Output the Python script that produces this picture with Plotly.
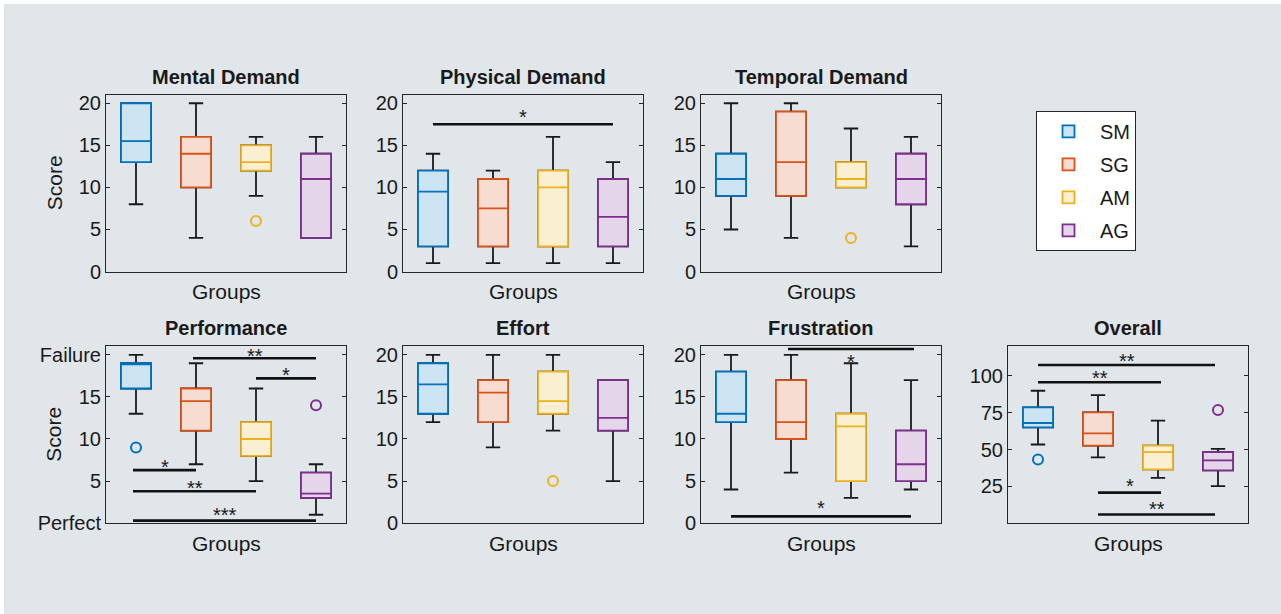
import plotly.graph_objects as go

W, H = 1281, 614          # reference design space (pixels)
H_PAGE = 626              # rendered height (capture is squeezed to 614)
FONT = "Liberation Sans, Arial, sans-serif"
INK = "#1a1a1a"

GROUPS = ["SM", "SG", "AM", "AG"]
LINE_COLORS = ["#0072BD", "#D95319", "#EDB120", "#7E2F8E"]
FILL_COLORS = ["#cce3f2", "#f7ddd1", "#fbefd2", "#e5d5e8"]

MENTAL_Q1 = [13, 10, 12, 4]
MENTAL_MED = [15.5, 14, 13, 11]
MENTAL_Q3 = [20, 16, 15, 14]
MENTAL_LO = [8, 4, 9, 4]
MENTAL_HI = [20, 20, 16, 16]
MENTAL_OUT = [[], [], [6], []]
MENTAL_SIG = []

PHYS_Q1 = [3, 3, 3, 3]
PHYS_MED = [9.5, 7.5, 10, 6.5]
PHYS_Q3 = [12, 11, 12, 11]
PHYS_LO = [1, 1, 1, 1]
PHYS_HI = [14, 12, 16, 13]
PHYS_OUT = [[], [], [], []]
PHYS_SIG = [(1, 4, 17.5, "*", 18.8)]

TEMP_Q1 = [9, 9, 10, 8]
TEMP_MED = [11, 13, 11, 11]
TEMP_Q3 = [14, 19, 13, 14]
TEMP_LO = [5, 4, 10, 3]
TEMP_HI = [20, 20, 17, 16]
TEMP_OUT = [[], [], [4], []]
TEMP_SIG = []

PERF_Q1 = [16, 11, 8, 3]
PERF_MED = [19, 14.5, 10, 3.5]
PERF_Q3 = [19, 16, 12, 6]
PERF_LO = [13, 7, 5, 1]
PERF_HI = [20, 19, 16, 7]
PERF_OUT = [[9], [], [], [14]]
PERF_SIG = [(1.95, 4, 19.6, "**", 20.3), (3, 4, 17.2, "*", 18.1),
            (0.95, 2, 6.3, "*", 7.2), (0.95, 3, 3.8, "**", 4.7),
            (0.95, 4, 0.3, "***", 1.5)]
PERF_TICKTEXT = ["Perfect", "5", "10", "15", "Failure"]

EFF_Q1 = [13, 12, 13, 11]
EFF_MED = [16.5, 15.5, 14.5, 12.5]
EFF_Q3 = [19, 17, 18, 17]
EFF_LO = [12, 9, 11, 5]
EFF_HI = [20, 20, 20, 17]
EFF_OUT = [[], [], [5], []]
EFF_SIG = []

FRUS_Q1 = [12, 10, 5, 5]
FRUS_MED = [13, 12, 11.5, 7]
FRUS_Q3 = [18, 17, 13, 11]
FRUS_LO = [4, 6, 3, 4]
FRUS_HI = [20, 20, 19, 17]
FRUS_OUT = [[], [], [], []]
FRUS_SIG = [(1.95, 4.05, 20.7, "*", 19.6), (1, 4, 0.8, "*", 2.3)]

OVR_Q1 = [65.1, 52.7, 36.5, 35.8]
OVR_MED = [68.0, 61.0, 48.2, 42.6]
OVR_Q3 = [78.6, 75.2, 52.7, 48.2]
OVR_LO = [53.4, 44.6, 30.8, 25.2]
OVR_HI = [89.9, 87.0, 69.6, 50.5]
OVR_OUT = [[43.2], [], [], [76.8]]
OVR_SIG = [(1, 3.95, 107.4, "**", 113), (1, 3.05, 95.7, "**", 101.1),
           (2, 3.05, 20.7, "*", 27.9), (2, 3.95, 5.9, "**", 12.2)]

TICKS_20 = [0, 5, 10, 15, 20]
TICKS_OVR = [25, 50, 75, 100]

panels = [
    dict(title="Mental Demand", q1=MENTAL_Q1, med=MENTAL_MED, q3=MENTAL_Q3, lo=MENTAL_LO, hi=MENTAL_HI,
         out=MENTAL_OUT, sig=MENTAL_SIG, left=106, top=93, yr=[0, 21], tv=TICKS_20, tt=None, ylab=True),
    dict(title="Physical Demand", q1=PHYS_Q1, med=PHYS_MED, q3=PHYS_Q3, lo=PHYS_LO, hi=PHYS_HI,
         out=PHYS_OUT, sig=PHYS_SIG, left=403, top=93, yr=[0, 21], tv=TICKS_20, tt=None, ylab=False),
    dict(title="Temporal Demand", q1=TEMP_Q1, med=TEMP_MED, q3=TEMP_Q3, lo=TEMP_LO, hi=TEMP_HI,
         out=TEMP_OUT, sig=TEMP_SIG, left=701, top=93, yr=[0, 21], tv=TICKS_20, tt=None, ylab=False),
    dict(title="Performance", q1=PERF_Q1, med=PERF_MED, q3=PERF_Q3, lo=PERF_LO, hi=PERF_HI,
         out=PERF_OUT, sig=PERF_SIG, left=106, top=345, yr=[0, 21], tv=TICKS_20, tt=PERF_TICKTEXT, ylab=True),
    dict(title="Effort", q1=EFF_Q1, med=EFF_MED, q3=EFF_Q3, lo=EFF_LO, hi=EFF_HI,
         out=EFF_OUT, sig=EFF_SIG, left=403, top=345, yr=[0, 21], tv=TICKS_20, tt=None, ylab=False),
    dict(title="Frustration", q1=FRUS_Q1, med=FRUS_MED, q3=FRUS_Q3, lo=FRUS_LO, hi=FRUS_HI,
         out=FRUS_OUT, sig=FRUS_SIG, left=701, top=345, yr=[0, 21], tv=TICKS_20, tt=None, ylab=False),
    dict(title="Overall", q1=OVR_Q1, med=OVR_MED, q3=OVR_Q3, lo=OVR_LO, hi=OVR_HI,
         out=OVR_OUT, sig=OVR_SIG, left=1008, top=345, yr=[0, 120], tv=TICKS_OVR, tt=None, ylab=False),
]

PW, PH = 240, 177

fig = go.Figure()
layout = {}
annotations = []

for i, p in enumerate(panels):
    ax = "" if i == 0 else str(i + 1)
    xa, ya = "x" + ax, "y" + ax
    x0 = p["left"] / W
    x1 = (p["left"] + PW) / W
    y1 = 1 - p["top"] / H
    y0 = 1 - (p["top"] + PH) / H
    layout["xaxis" + ax] = dict(domain=[x0, x1], range=[0.5, 4.5], anchor=ya,
                                showticklabels=False, ticks="", showgrid=False, zeroline=False,
                                showline=True, mirror=True, linecolor="#262626", linewidth=1)
    yax = dict(domain=[y0, y1], range=p["yr"], anchor=xa, tickvals=p["tv"],
               ticks="inside", ticklen=4, tickcolor="#262626", showgrid=False, zeroline=False,
               showline=True, mirror="ticks", linecolor="#262626", linewidth=1,
               tickfont=dict(family=FONT, size=20, color=INK))
    if p["tt"] is not None:
        yax["ticktext"] = p["tt"]
    layout["yaxis" + ax] = yax

    for g in range(4):
        pos = g + 1
        fig.add_trace(go.Box(x=[pos], q1=[p["q1"][g]], median=[p["med"][g]], q3=[p["q3"][g]],
                             lowerfence=[p["lo"][g]], upperfence=[p["hi"][g]],
                             width=0.5, whiskerwidth=0.48, boxpoints=False,
                             line=dict(color=INK, width=1.8), fillcolor="rgba(0,0,0,0)",
                             xaxis=xa, yaxis=ya, showlegend=False, hoverinfo="skip"))
        fig.add_trace(go.Box(x=[pos], q1=[p["q1"][g]], median=[p["med"][g]], q3=[p["q3"][g]],
                             lowerfence=[p["q1"][g]], upperfence=[p["q3"][g]],
                             width=0.5, whiskerwidth=0, boxpoints=False,
                             line=dict(color=LINE_COLORS[g], width=1.8), fillcolor=FILL_COLORS[g],
                             xaxis=xa, yaxis=ya, name=GROUPS[g], legendgroup=GROUPS[g],
                             showlegend=(i == 0)))
        if p["out"][g]:
            fig.add_trace(go.Scatter(x=[pos] * len(p["out"][g]), y=p["out"][g], mode="markers",
                                     marker=dict(symbol="circle-open", size=10, color=LINE_COLORS[g],
                                                 line=dict(width=2, color=LINE_COLORS[g])),
                                     xaxis=xa, yaxis=ya, showlegend=False))
    for (sx0, sx1, sy, lab, ly) in p["sig"]:
        fig.add_trace(go.Scatter(x=[sx0, sx1], y=[sy, sy], mode="lines",
                                 line=dict(color="#111111", width=2.6), cliponaxis=False,
                                 xaxis=xa, yaxis=ya, showlegend=False, hoverinfo="skip"))
        annotations.append(dict(x=(sx0 + sx1) / 2, y=ly, xref=xa, yref=ya, text=lab, showarrow=False,
                                xanchor="center", yshift=-4, font=dict(family=FONT, size=20, color=INK)))

    cx = (p["left"] + PW / 2) / W
    annotations.append(dict(x=cx, y=1 - (p["top"] - 18) / H, xref="paper", yref="paper",
                            text="<b>" + p["title"] + "</b>", showarrow=False, xanchor="center",
                            font=dict(family=FONT, size=20, color=INK), yanchor="middle"))
    annotations.append(dict(x=cx, y=1 - (p["top"] + PH + 20) / H, xref="paper", yref="paper",
                            text="Groups", showarrow=False, xanchor="center",
                            font=dict(family=FONT, size=21, color=INK), yanchor="middle"))
    if p["ylab"]:
        annotations.append(dict(x=54 / W, y=1 - (p["top"] + PH / 2) / H, xref="paper", yref="paper",
                                text="Score", showarrow=False, textangle=-90,
                                font=dict(family=FONT, size=21, color=INK),
                                xanchor="center", yanchor="middle"))

fig.update_layout(
    width=W, height=H_PAGE, margin=dict(l=0, r=0, t=0, b=0),
    paper_bgcolor="white", plot_bgcolor="white",
    boxmode="overlay",
    annotations=annotations,
    shapes=[dict(type="rect", xref="paper", yref="paper", x0=4 / W, x1=1, y0=0, y1=1 - 2 / H,
                 fillcolor="#e1e6ea", line=dict(width=0), layer="below")],
    legend=dict(x=1036 / W, y=1 - 109 / H, xanchor="left", yanchor="top",
                bgcolor="white", bordercolor="#262626", borderwidth=1,
                font=dict(family=FONT, size=20, color=INK), tracegroupgap=4,
                itemwidth=53),
    **layout,
)

fig.write_html("out.html", post_script="document.body.style.margin='0';",
               config={"displayModeBar": False})
